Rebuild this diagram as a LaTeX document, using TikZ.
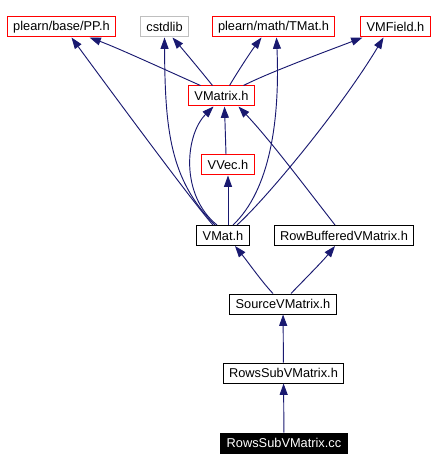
\documentclass[tikz,border=0pt]{standalone}
\usepackage{fontspec}
\setmainfont{Liberation Sans}
\usepackage{tikz}
\usetikzlibrary{calc,arrows.meta,positioning}
\definecolor{edgeblue}{HTML}{191970}
\definecolor{boxgrey}{gray}{0.75}

\begin{document}
\begin{tikzpicture}[x=0.75pt,y=-0.75pt]

\tikzset{filenode/.style={font=\fontsize{9.6}{11}\selectfont,draw=black,line width=0.75pt,inner xsep=4.5pt,inner ysep=0pt,minimum height=15pt,shape=rectangle},
redfile/.style={filenode,draw=red},
greyfile/.style={filenode,draw=boxgrey},
mainfile/.style={filenode,fill=black,text=white,draw=black},
incl/.style={draw=edgeblue,line width=0.7pt,-{Triangle[length=8.5pt,width=6pt]}}}

\useasboundingbox (0,0) rectangle (436,470);

% top row of headers
\node[redfile] (pp) at (61.5,27) {plearn/base/PP.h};
\node[greyfile] (cstd) at (164.5,27) {cstdlib};
\node[redfile] (tmat) at (273.5,27) {plearn/math/TMat.h};
\node[redfile] (vmf) at (395.5,27) {VMField.h};

% middle headers
\node[redfile] (vmatrix) at (221.5,96) {VMatrix.h};
\node[redfile] (vvec) at (228,165) {VVec.h};
\node[filenode] (vmat) at (223,235.5) {VMat.h};
\node[filenode] (rowbuf) at (344,235.5) {RowBufferedVMatrix.h};

% lower chain
\node[filenode] (source) at (283,304) {SourceVMatrix.h};
\node[filenode] (rowssub) at (283.5,373) {RowsSubVMatrix.h};
\node[mainfile] (cc) at (284,443) {RowsSubVMatrix.cc};

% Edges from VMatrix.h
\draw[incl] ($(vmatrix.north)+(-21,0)$) .. controls (170,72) and (118,48) .. ($(pp.south)+(28,0)$);
\draw[incl] ($(vmatrix.north)+(-9,0)$) .. controls (200,70) and (185,52) .. ($(cstd.south)+(8,0)$);
\draw[incl] ($(vmatrix.north)+(8,0)$) .. controls (240,68) and (252,50) .. ($(tmat.south)+(-12,0)$);
\draw[incl] ($(vmatrix.north)+(22,0)$) .. controls (270,72) and (330,50) .. ($(vmf.south)+(-33,0)$);

% Edges from VMat.h
\draw[incl] ($(vmat.north)+(-10,0)$) .. controls (195,205) and (110,90) .. ($(pp.south)+(10,0)$);
\draw[incl] ($(vmat.north)+(-8,0)$) .. controls (170,180) and (165,130) .. (cstd.south);
\draw[incl] ($(vmat.north)+(-6,0)$) .. controls (180,195) and (185,135) .. ($(vmatrix.south)+(-8,0)$);
\draw[incl] ($(vmat.north)+(5,0)$) -- (vvec.south);
\draw[incl] ($(vmat.north)+(10,0)$) .. controls (270,190) and (280,120) .. ($(tmat.south)+(3,0)$);
\draw[incl] ($(vmat.north)+(14,0)$) .. controls (265,200) and (340,110) .. ($(vmf.south)+(-12,0)$);

% other edges
\draw[incl] ($(vvec.north)+(-2,0)$) -- ($(vmatrix.south)+(3,0)$);
\draw[incl] ($(rowbuf.north)+(-9,0)$) .. controls (300,180) and (270,140) .. ($(vmatrix.south)+(17,0)$);
\draw[incl] ($(source.north)+(-10,0)$) .. controls (262,282) and (248,262) .. ($(vmat.south)+(12,0)$);
\draw[incl] ($(source.north)+(8,0)$) .. controls (302,282) and (322,262) .. ($(rowbuf.south)+(-9,0)$);
\draw[incl] (rowssub) -- (source);
\draw[incl] (cc) -- (rowssub);

\end{tikzpicture}
\end{document}
